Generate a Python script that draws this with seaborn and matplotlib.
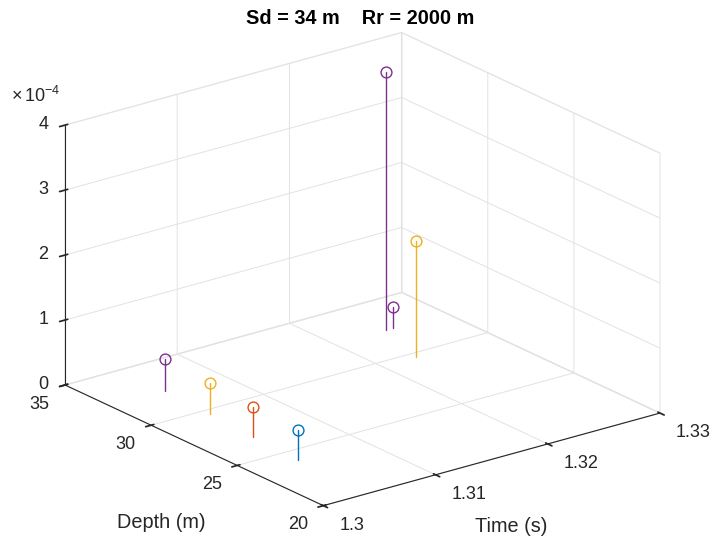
import types
import numpy as np
import matplotlib
matplotlib.use("Agg")
import matplotlib.pyplot as plt
import seaborn as sns
from matplotlib.transforms import ScaledTranslation
from mpl_toolkits.mplot3d import proj3d

# ---------------- data ----------------
receiver_depths = [24.1, 26.9, 29.6, 32.4]                 # m
arrival_times = [[1.3040], [1.3043], [1.3046, 1.3230], [1.3049, 1.3246, 1.3252]]  # s
arrival_amps = [[0.46e-4], [0.46e-4], [0.48e-4, 1.80e-4], [0.49e-4, 3.97e-4, 0.33e-4]]
series_colors = ["#0072BD", "#D95319", "#EDB120", "#7E2F8E"]
time_ticks = [1.30, 1.31, 1.32, 1.33]
time_ticklabels = ["1.3", "1.31", "1.32", "1.33"]
depth_ticks = [20, 25, 30, 35]
amp_ticks = [0, 1, 2, 3, 4]
amp_scale = 1e-4
title_text = "Sd = 34 m    Rr = 2000 m"
xlabel_text = "Time (s)"
ylabel_text = "Depth (m)"

# ---------------- style ----------------
sns.set_theme(style="white")
plt.rcParams.update({
    "font.family": ["Liberation Sans", "DejaVu Sans"],
    "mathtext.fontset": "custom",
    "mathtext.rm": "Liberation Sans",
    "mathtext.it": "Liberation Sans:italic",
    "mathtext.bf": "Liberation Sans:bold",
    "grid.color": "#e2e2e2",
    "grid.linewidth": 0.7,
    "axes.edgecolor": "#262626",
    "axes.linewidth": 0.8,
    "text.color": "#262626",
    "xtick.color": "#262626",
    "ytick.color": "#262626",
})
palette = sns.color_palette(series_colors)

W, H = 714, 543
fig = plt.figure(figsize=(W / 100, H / 100), dpi=100)
S0 = 400
ax = fig.add_axes([150 / W, 70 / H, S0 / W, S0 / H], projection="3d", proj_type="ortho")
ax.view_init(elev=21, azim=-127.5)
ax.set_box_aspect((1, 1, 0.656))

for depth, times, amps, col in zip(receiver_depths, arrival_times, arrival_amps, palette):
    for t, a in zip(times, amps):
        z = a / amp_scale
        ax.plot([t, t], [depth, depth], [0, z], color=col, lw=1.0)
        ax.plot([t], [depth], [z], marker="o", ms=7.8, mfc="none", mec=col, mew=1.0, color=col)

ax.set_xlim(time_ticks[0], time_ticks[-1])
ax.set_ylim(depth_ticks[0], depth_ticks[-1])
ax.set_zlim(amp_ticks[0], amp_ticks[-1])
ax.set_xticks(time_ticks)
ax.set_xticklabels(time_ticklabels)
ax.set_yticks(depth_ticks)
ax.set_zticks(amp_ticks)
ax.tick_params(labelsize=13, colors="#262626")

for axis in (ax.xaxis, ax.yaxis, ax.zaxis):
    axis.pane.set_facecolor((1, 1, 1, 0))
    axis.pane.set_edgecolor("#e2e2e2")
    axis.set_rotate_label(False)
ax.grid(True)


# nudge tick labels (pixel offsets) the way MATLAB places them
def nudge_ticklabels(axis, dx_px, dy_px, ha=None):
    def patched(self, numticks=None):
        ticks = type(self).get_major_ticks(self, numticks)
        off = ScaledTranslation(dx_px / 100, dy_px / 100, fig.dpi_scale_trans)
        for t in ticks:
            t.label1.set_transform(self.axes.transData + off)
            if ha is not None:
                t.label1.set_horizontalalignment(ha)
        return ticks
    axis.get_major_ticks = types.MethodType(patched, axis)


nudge_ticklabels(ax.xaxis, 3.5, 7, ha="left")
nudge_ticklabels(ax.yaxis, -9.5, 6)
nudge_ticklabels(ax.zaxis, 7, 8)

# ---------------- fit box to the reference layout ----------------
fig.canvas.draw()


def to_px(x, y, z):
    xs, ys, _ = proj3d.proj_transform(x, y, z, ax.M)
    return ax.transData.transform((xs, ys))


pos = ax.get_position()
A0 = np.array([pos.x0 * W, pos.y0 * H])
Sz = pos.width * W
g_l = (to_px(time_ticks[0], depth_ticks[-1], 0) - A0) / Sz
g_r = (to_px(time_ticks[-1], depth_ticks[0], 0) - A0) / Sz
tgt_l = np.array([65, H - 385])
tgt_r = np.array([660, H - 413])
S = (tgt_r[0] - tgt_l[0]) / (g_r[0] - g_l[0])
A = tgt_l - S * g_l
ax.set_position([A[0] / W, A[1] / H, S / W, S / H])

# ---------------- text ----------------
fig.text(360 / W, 1 - 18 / H, title_text, ha="center", va="center",
         fontsize=14.3, fontweight="bold", color="#000000")
fig.text(511 / W, 1 - 527 / H, xlabel_text, ha="center", va="center", fontsize=14.3)
fig.text(161 / W, 1 - 523 / H, ylabel_text, ha="center", va="center", fontsize=14.3)
fig.text(36 / W, 1 - 96 / H, r"$\times\,10^{-4}$", ha="center", va="center", fontsize=13)

fig.savefig("out.png", dpi=100)
